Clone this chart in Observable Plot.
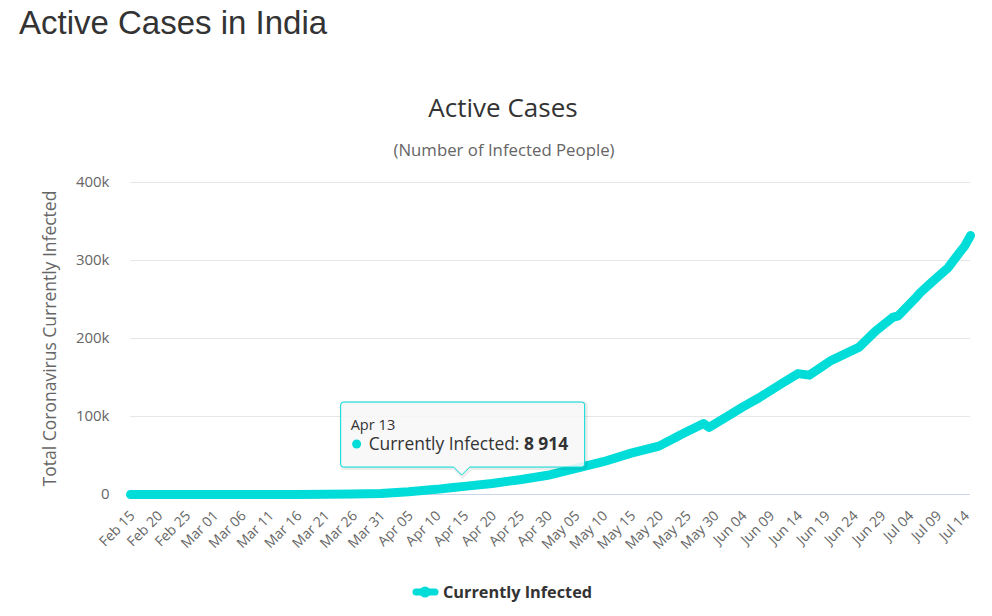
<!DOCTYPE html>
<html><head><meta charset="utf-8">
<script src="https://cdn.jsdelivr.net/npm/d3@7"></script>
<script src="https://cdn.jsdelivr.net/npm/@observablehq/plot@0.6"></script>
<style>
body{margin:0;background:#fff;width:992px;height:616px;overflow:hidden;position:relative;}
#title{position:absolute;left:19px;top:4px;font:33px "Liberation Sans",Arial,sans-serif;color:#333;white-space:nowrap;}
#chart{position:absolute;left:0;top:0;}
</style></head><body>
<div id="chart"></div>
<div id="title">Active Cases in India</div>
<script>
// ---- data ----
const dates = ["2020-02-15","2020-02-20","2020-02-25","2020-03-01","2020-03-04","2020-03-06","2020-03-11","2020-03-16","2020-03-21","2020-03-26","2020-03-31","2020-04-05","2020-04-10","2020-04-13","2020-04-15","2020-04-20","2020-04-25","2020-04-30","2020-05-06","2020-05-10","2020-05-15","2020-05-20","2020-05-24","2020-05-28","2020-05-29","2020-06-01","2020-06-04","2020-06-07","2020-06-09","2020-06-11","2020-06-14","2020-06-16","2020-06-20","2020-06-25","2020-06-28","2020-07-01","2020-07-02","2020-07-05","2020-07-06","2020-07-08","2020-07-11","2020-07-13","2020-07-14","2020-07-15"];
const values = [3,3,3,3,25,28,58,105,290,640,1400,3600,6600,8914,10400,14200,19000,24600,35000,42000,53000,62000,77000,91000,86000,99000,112000,124000,133000,142000,155000,153000,172000,189000,210000,227000,229000,251000,259000,272000,291000,310000,319000,332000];
const xTickLabels = ["Feb 15","Feb 20","Feb 25","Mar 01","Mar 06","Mar 11","Mar 16","Mar 21","Mar 26","Mar 31","Apr 05","Apr 10","Apr 15","Apr 20","Apr 25","Apr 30","May 05","May 10","May 15","May 20","May 25","May 30","Jun 04","Jun 09","Jun 14","Jun 19","Jun 24","Jun 29","Jul 04","Jul 09","Jul 14"];
const yTicks = [0,100000,200000,300000,400000];
const yTickLabels = ["0","100k","200k","300k","400k"];
const seriesName = "Currently Infected";
const chartTitle = "Active Cases";
const chartSubtitle = "(Number of Infected People)";
const yLabel = "Total Coronavirus Currently Infected";
const tooltipDate = "2020-04-13";
const tooltipLabel = "Apr 13";
const tooltipValue = "8 914";

const lineColor = "#00dcd8";
const FONT = "'Open Sans', sans-serif";
const parseDay = d3.utcParse("%Y-%m-%d");
const data = dates.map((d,i)=>({date: parseDay(d), value: values[i]}));
const tickDates = xTickLabels.map(s => d3.utcParse("%b %d %Y")(s + " 2020"));
const xLab = new Map(tickDates.map((d,i)=>[+d, xTickLabels[i]]));
const yLab = new Map(yTicks.map((d,i)=>[d, yTickLabels[i]]));

const plot = Plot.plot({
  width: 992, height: 616,
  marginTop: 182, marginBottom: 122, marginLeft: 130, marginRight: 22,
  style: {fontFamily: FONT, background: "transparent", color: "#666", overflow: "visible"},
  x: {type: "utc", domain: [parseDay("2020-02-15"), parseDay("2020-07-15")]},
  y: {domain: [0, 400000]},
  marks: [
    Plot.ruleY(yTicks.slice(1), {stroke: "#e6e6e6", strokeWidth: 1}),
    Plot.ruleY([0], {stroke: "#ccd6eb", strokeWidth: 1}),
    Plot.axisY({ticks: yTicks, tickFormat: d => yLab.get(d), tickSize: 0, tickPadding: 21, fontSize: 15, fill: "#666", label: null}),
    Plot.axisX({ticks: tickDates, tickFormat: d => xLab.get(+d), tickRotate: -45, tickSize: 0, tickPadding: 19, dx: 2, fontSize: 14, fill: "#666", label: null}),
    Plot.line(data, {x: "date", y: "value", stroke: lineColor, strokeWidth: 9, strokeLinejoin: "round", strokeLinecap: "round"}),
    Plot.text([yLabel], {frameAnchor: "left", dx: -80, rotate: -90, textAnchor: "middle", fontSize: 17.5, fill: "#666"})
  ]
});
document.getElementById("chart").appendChild(plot);

const svg = d3.select(plot);
const sx = plot.scale("x"), sy = plot.scale("y");
// chart title & subtitle
svg.append("text").attr("x", 503).attr("y", 117).attr("text-anchor","middle")
  .attr("font-family",FONT).attr("font-size",26).attr("fill","#333").text(chartTitle);
svg.append("text").attr("x", 504).attr("y", 156).attr("text-anchor","middle")
  .attr("font-family",FONT).attr("font-size",16.8).attr("fill","#666").text(chartSubtitle);

// tooltip
const px = sx.apply(parseDay(tooltipDate)), py = sy.apply(8914);
const L = px-112, R = px+132, T = py-85, B = py-20, tx = px+9, ty = py-12;
const path = `M${L+3},${T} H${R-3} Q${R},${T} ${R},${T+3} V${B-3} Q${R},${B} ${R-3},${B} H${tx+8} L${tx},${ty} L${tx-8},${B} H${L+3} Q${L},${B} ${L},${B-3} V${T+3} Q${L},${T} ${L+3},${T} Z`;
const tg = svg.append("g").attr("text-anchor","start");
tg.append("path").attr("d", path).attr("transform","translate(1,1)").attr("fill","none").attr("stroke","rgba(0,0,0,0.08)").attr("stroke-width",4);
tg.append("path").attr("d", path).attr("fill","rgba(247,247,247,0.88)").attr("stroke",lineColor).attr("stroke-width",1);
tg.append("text").attr("x", px-102).attr("y", py-57).attr("font-family",FONT).attr("font-size",14.6).attr("fill","#333").text(tooltipLabel);
tg.append("circle").attr("cx", px-96).attr("cy", py-43).attr("r",4.5).attr("fill",lineColor);
const t2 = tg.append("text").attr("x", px-84).attr("y", py-37).attr("font-family",FONT).attr("font-size",17.4).attr("fill","#333");
t2.append("tspan").text(seriesName + ": ");
t2.append("tspan").attr("font-weight","bold").text(tooltipValue);

// legend
const lg = svg.append("g").attr("text-anchor","start");
lg.append("line").attr("x1",416).attr("x2",435).attr("y1",592).attr("y2",592).attr("stroke",lineColor).attr("stroke-width",7).attr("stroke-linecap","round");
lg.append("circle").attr("cx",425).attr("cy",592).attr("r",5.5).attr("fill",lineColor);
lg.append("text").attr("x",443).attr("y",598).attr("font-family",FONT).attr("font-size",16.3).attr("font-weight","bold").attr("fill","#333").text(seriesName);
</script>
</body></html>
